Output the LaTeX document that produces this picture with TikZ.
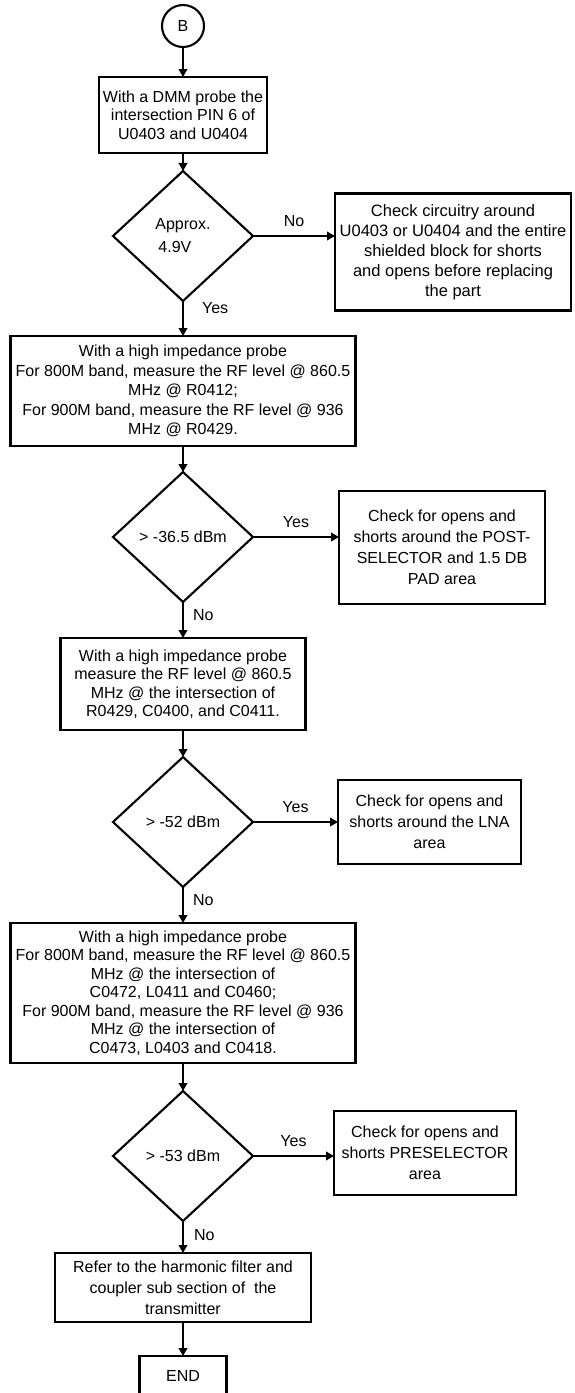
\documentclass[tikz,border=0pt]{standalone}
\usepackage{fontspec}
\setmainfont{Liberation Sans}
\usetikzlibrary{shapes.geometric,arrows.meta,positioning}
\tikzset{
  proc/.style = {rectangle, draw=black, line width=2.1pt, align=center, inner sep=2pt,
                 outer sep=0pt, font=\fontsize{16}{18.5}\selectfont},
  dec/.style  = {diamond, draw=black, line width=2.1pt, align=center, inner sep=1pt,
                 outer sep=0pt, minimum width=140pt, minimum height=130pt,
                 font=\fontsize{16}{18.5}\selectfont},
  conn/.style = {circle, draw=black, line width=2.1pt, minimum size=42pt, inner sep=0pt,
                 outer sep=0pt, font=\fontsize{16}{18.5}\selectfont},
  fl/.style   = {-{Triangle[length=8pt,width=8.5pt]}, line width=2.1pt},
  lab/.style  = {font=\fontsize{16}{18.5}\selectfont, inner sep=0pt},
}
\begin{document}
\begin{tikzpicture}
  \useasboundingbox (0,0) rectangle (574pt,-1393pt);
  \node[conn] (b) at (183pt,-26pt) {B};
  \node[proc, below=30pt of b, minimum width=168pt, minimum height=76pt] (dmm)
    {With a DMM probe the\\intersection PIN 6 of\\U0403 and U0404};
  \node[dec, below=18pt of dmm, align=left, font=\fontsize{16}{23}\selectfont] (v49)
    {Approx.\\\hspace{3pt}4.9V};
  \node[proc, right=82pt of v49, yshift=-16pt, minimum width=236pt, minimum height=117pt,
        font=\fontsize{16.5}{20}\selectfont] (chk)
    {Check circuitry around\\U0403 or U0404 and the entire\\shielded block for shorts\\and opens before replacing\\the part};
  \node[proc, below=35pt of v49, minimum width=345pt, minimum height=110pt,
        font=\fontsize{16}{19.5}\selectfont] (rf1)
    {With a high impedance probe\\For 800M band, measure the RF level @ 860.5\\MHz @ R0412;\\For 900M band, measure the RF level @ 936\\MHz @ R0429.};
  \node[dec, below=26pt of rf1] (d365) {> -36.5 dBm};
  \node[proc, right=86pt of d365, yshift=-10.5pt, minimum width=206pt, minimum height=113pt,
        font=\fontsize{16}{21}\selectfont] (post)
    {Check for opens and\\shorts around the POST-\\SELECTOR and 1.5 DB\\PAD area};
  \node[proc, below=36pt of d365, minimum width=245pt, minimum height=92pt] (rf2)
    {With a high impedance probe\\measure the RF level @ 860.5\\MHz @ the intersection of\\R0429, C0400, and C0411.};
  \node[dec, below=27pt of rf2] (d52) {> -52 dBm};
  \node[proc, right=85pt of d52, minimum width=183pt, minimum height=84pt,
        font=\fontsize{16}{21}\selectfont] (lna)
    {Check for opens and\\shorts around the LNA\\area};
  \node[proc, below=36pt of d52, minimum width=345pt, minimum height=140pt] (rf3)
    {With a high impedance probe\\For 800M band, measure the RF level @ 860.5\\MHz @ the intersection of\\C0472, L0411 and C0460;\\For 900M band, measure the RF level @ 936\\MHz @ the intersection of\\C0473, L0403 and C0418.};
  \node[dec, below=28pt of rf3] (d53) {> -53 dBm};
  \node[proc, right=81pt of d53, yshift=3pt, minimum width=182pt, minimum height=84pt,
        font=\fontsize{16}{21}\selectfont] (pre)
    {Check for opens and\\shorts PRESELECTOR\\area};
  \node[proc, below=32pt of d53, minimum width=256pt, minimum height=69pt,
        font=\fontsize{16}{21}\selectfont] (harm)
    {Refer to the harmonic filter and\\coupler sub section of~ the\\transmitter};
  \node[proc, below=34pt of harm, minimum width=87pt, minimum height=40pt] (endn) {END};

  \draw[fl] (b) -- (dmm);
  \draw[fl] (dmm) -- (v49);
  \draw[fl] (v49) -- node[lab, above=8pt]{No} (v49 -| chk.west);
  \draw[fl] (v49) -- node[lab, pos=0.2, right=18pt]{Yes} (rf1);
  \draw[fl] (rf1) -- (d365);
  \draw[fl] (d365) -- node[lab, above=8pt]{Yes} (d365 -| post.west);
  \draw[fl] (d365) -- node[lab, pos=0.36, right=9pt]{No} (rf2);
  \draw[fl] (rf2) -- (d52);
  \draw[fl] (d52) -- node[lab, above=8pt]{Yes} (d52 -| lna.west);
  \draw[fl] (d52) -- node[lab, pos=0.36, right=9pt]{No} (rf3);
  \draw[fl] (rf3) -- (d53);
  \draw[fl] (d53) -- node[lab, above=8pt]{Yes} (d53 -| pre.west);
  \draw[fl] (d53) -- node[lab, pos=0.44, right=10pt]{No} (harm);
  \draw[fl] (harm) -- (endn);
\end{tikzpicture}
\end{document}
